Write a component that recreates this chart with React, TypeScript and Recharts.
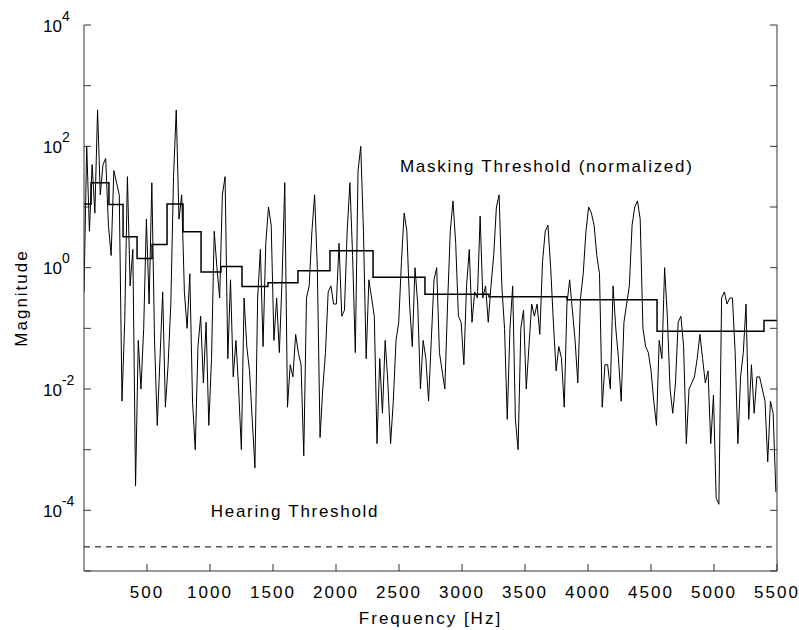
import { LineChart, Line, XAxis, YAxis, ReferenceLine, ReferenceDot, Label } from "recharts";

// spectrum bins: 512-point FFT at 11025 Hz
const BIN_HZ = 11025 / 512;

// log10 magnitude of each bin
const SPECTRUM_EXP = [
  -0.4, 2.0, 0.6, 1.7, 0.9, 2.6, 1.2, 1.7, 1.8, 0.7, 0.2, 1.6, 1.4, 1.2, -2.2, -0.9,
  1.5, -0.3, 0.3, -3.6, -1.2, -2.0, -1.0, 0.8, -0.6, 1.4, -1.2, -2.6, -1.5, -0.4, -2.3, -1.6,
  -0.6, 1.5, 2.6, 0.8, 1.2, -0.4, -1.0, -0.1, -2.2, -3.0, -1.3, -0.8, -1.9, -0.9, -2.6, -1.5,
  0.6, 0.0, -0.5, 1.2, 1.5, -1.5, -0.2, -1.8, -1.2, -2.0, -3.0, -0.5, -1.3, -1.7, -2.5, -3.3,
  -0.5, 0.3, -1.3, 0.4, 1.0, 0.7, -1.2, -0.5, -1.4, -0.2, 1.4, -2.3, -1.6, -1.8, -1.1, -1.4,
  -1.6, -3.1, -0.5, -0.3, 0.6, 1.2, 0.0, -2.8, -2.0, -1.4, -0.4, -0.3, -0.6, -0.6, 0.4, -0.8,
  -0.7, 0.6, 1.4, 0.2, -1.4, 1.6, 2.0, 0.6, -1.5, -0.2, -0.5, -0.8, -2.9, -1.5, -2.4, -1.2,
  -1.9, -2.9, -2.2, -1.2, -0.9, 0.1, 0.9, 0.6, -0.6, -1.3, 0.0, -0.6, -2.0, -1.2, -1.5, -2.2,
  -1.2, -0.2, 0.0, -1.4, -1.7, -2.0, -0.6, 0.6, 1.1, 0.4, -0.8, -0.9, -1.6, -0.3, 0.3, -0.9,
  -0.4, -0.5, 0.85, -0.5, -0.3, -0.9, -0.3, 0.2, 1.0, 1.2, -0.3, -1.0, -2.5, -1.0, -0.3, -2.5,
  -3.0, -1.0, -0.7, -2.0, -1.3, -0.6, -0.8, -0.6, -1.1, 0.1, 0.6, 0.7, 0.0, -0.9, -1.7, -1.3,
  -1.5, -2.3, -0.6, -0.2, -0.7, -1.2, -1.9, -0.5, -0.1, 0.6, 1.0, 0.9, 0.7, 0.2, -0.1, -2.3,
  -1.6, -1.6, -2.0, -0.3, -1.0, -1.5, -2.2, -0.9, -0.6, -0.3, 0.7, 1.0, 1.1, 0.8, -1.0, -1.3,
  -1.4, -1.7, -2.2, -2.6, -1.2, -1.5, 0.0, -0.8, -2.0, -2.4, -1.9, -0.9, -0.8, -1.3, -2.9, -2.0,
  -1.9, -1.8, -1.5, -1.1, -1.5, -1.9, -1.7, -2.9, -2.1, -3.8, -3.9, -0.5, -0.4, -0.6, -0.5, -0.5,
  -1.4, -2.9, -1.8, -1.4, -0.6, -2.5, -1.6, -2.4, -1.8, -1.8, -2.0, -2.2, -3.2, -2.2, -2.4, -3.7,
];

// masking threshold: band start frequency and log10 level
const THRESH_HZ = [0, 56, 198, 310, 421, 540, 659, 786, 929, 1087, 1254, 1460, 1698, 1952, 2294, 2706, 3214, 3833, 4548, 5397, 5500];
const THRESH_EXP = [1.05, 1.4, 1.04, 0.51, 0.15, 0.38, 1.05, 0.59, -0.07, 0.02, -0.31, -0.25, -0.05, 0.28, -0.16, -0.44, -0.48, -0.53, -1.05, -0.87, -0.87];

const HEARING_LEVEL = 2.5e-5;

const X_TICKS = [500, 1000, 1500, 2000, 2500, 3000, 3500, 4000, 4500, 5000, 5500];
const Y_TICKS = [1e-5, 1e-4, 1e-3, 1e-2, 1e-1, 1, 1e1, 1e2, 1e3, 1e4];

const spectrum = SPECTRUM_EXP.map((e, i) => ({ f: i * BIN_HZ, v: Math.pow(10, e) }));
const threshold = THRESH_HZ.map((f, i) => ({ f, v: Math.pow(10, THRESH_EXP[i]) }));

const AXIS = "#333";
const FONT = '"Liberation Sans", Arial, sans-serif';
const TICK = 7;

function LeftTick({ x, y, payload }: any) {
  const exp = Math.round(Math.log10(payload.value));
  return (
    <g>
      <line x1={x} x2={x + TICK} y1={y} y2={y} stroke={AXIS} />
      {exp % 2 === 0 && (
        <text x={x - 41} y={y + 6.5} fontSize={17} fontFamily={FONT} fill="#000">
          10
          <tspan dy={-11} fontSize={14}>{exp}</tspan>
        </text>
      )}
    </g>
  );
}

function RightTick({ x, y }: any) {
  return <line x1={x} x2={x - TICK} y1={y} y2={y} stroke={AXIS} />;
}

function BottomTick({ x, y, payload }: any) {
  return (
    <g>
      <line x1={x} x2={x} y1={y} y2={y - TICK} stroke={AXIS} />
      <text x={x} y={y + 27} textAnchor="middle" fontSize={17} letterSpacing={2} fontFamily={FONT} fill="#000">
        {payload.value}
      </text>
    </g>
  );
}

function TopTick({ x, y }: any) {
  return <line x1={x} x2={x} y1={y} y2={y + TICK} stroke={AXIS} />;
}

const note = (txt: string) => (p: any) => (
  <text x={p.cx} y={p.cy} fontSize={17} letterSpacing={1.7} fontFamily={FONT} fill="#000">
    {txt}
  </text>
);

export default function App() {
  return (
    <div style={{ position: "absolute", left: 0, top: 0, background: "#fff" }}>
      <LineChart width={799} height={630} margin={{ top: 25, right: 0, bottom: 0, left: 0 }}>
        <XAxis
          type="number"
          dataKey="f"
          domain={[0, 5500]}
          ticks={X_TICKS}
          allowDataOverflow
          height={59}
          stroke={AXIS}
          tickLine={false}
          tickSize={0}
          tickMargin={0}
          tick={BottomTick}
        >
          <Label value="Frequency [Hz]" position="insideBottom" offset={6} fontSize={17} letterSpacing={2} fontFamily={FONT} fill="#000" />
        </XAxis>
        <XAxis
          xAxisId="top"
          orientation="top"
          type="number"
          dataKey="f"
          domain={[0, 5500]}
          ticks={X_TICKS}
          allowDataOverflow
          height={0}
          stroke={AXIS}
          tickLine={false}
          tickSize={0}
          tickMargin={0}
          tick={TopTick}
        />
        <YAxis
          scale="log"
          domain={[1e-5, 1e4]}
          ticks={Y_TICKS}
          allowDataOverflow
          width={84}
          stroke={AXIS}
          tickLine={false}
          tickSize={0}
          tickMargin={0}
          tick={LeftTick}
        >
          <Label value="Magnitude" position="insideLeft" angle={-90} offset={21} textAnchor="middle" fontSize={17} letterSpacing={2} fontFamily={FONT} fill="#000" />
        </YAxis>
        <YAxis
          yAxisId="right"
          orientation="right"
          scale="log"
          domain={[1e-5, 1e4]}
          ticks={Y_TICKS}
          allowDataOverflow
          width={22}
          stroke={AXIS}
          tickLine={false}
          tickSize={0}
          tickMargin={0}
          tick={RightTick}
        />
        <ReferenceLine y={HEARING_LEVEL} stroke="#000" strokeDasharray="6 5" />
        <Line
          data={spectrum}
          dataKey="v"
          type="linear"
          stroke="#000"
          strokeWidth={1}
          dot={false}
          isAnimationActive={false}
        />
        <Line
          data={threshold}
          dataKey="v"
          type="stepAfter"
          stroke="#000"
          strokeWidth={1.5}
          dot={false}
          isAnimationActive={false}
        />
        <ReferenceDot x={2508} y={38} r={0} shape={note("Masking Threshold (normalized)")} />
        <ReferenceDot x={1006} y={7.9e-5} r={0} shape={note("Hearing Threshold")} />
      </LineChart>
    </div>
  );
}
